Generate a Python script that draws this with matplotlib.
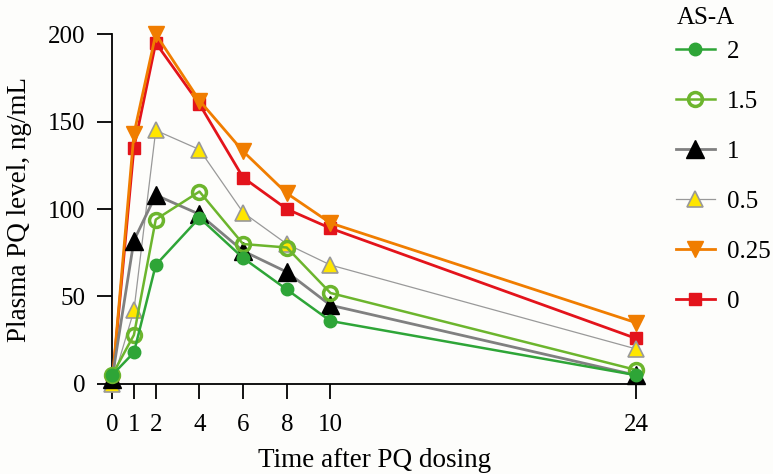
import matplotlib
matplotlib.use("Agg")
import matplotlib.pyplot as plt

plt.rcParams['font.family'] = ['Liberation Serif', 'DejaVu Serif']

hours = [0, 1, 2, 4, 6, 8, 10, 24]

asa_2 = [5, 18, 68, 95, 72, 54, 36, 5]
asa_15 = [5, 28, 94, 110, 80, 78, 52, 8]
asa_1 = [3, 82, 108, 97, 76, 64, 45, 5]
asa_05 = [0, 42, 145, 134, 98, 80, 68, 20]
asa_025 = [0, 143, 200, 162, 133, 109, 92, 35]
asa_0 = [0, 135, 195, 160, 118, 100, 89, 26]

labels = ['2', '1.5', '1', '0.5', '0.25', '0']

fig = plt.figure(figsize=(7.73, 4.74), dpi=100)
fig.patch.set_facecolor('#fdfdfb')
ax = fig.add_axes([0.145, 0.19, 0.678, 0.738])
ax.set_facecolor('#fdfdfb')

# drawn bottom-up so the green series sit on top
l0, = ax.plot(hours, asa_0, color='#e3131b', lw=2, marker='s', ms=9,
              mfc='#e3131b', mec='#e3131b', clip_on=False, zorder=3)
l025, = ax.plot(hours, asa_025, color='#f07d00', lw=2, marker='v', ms=12,
                mfc='#f07d00', mec='#f07d00', clip_on=False, zorder=4)
l05, = ax.plot(hours, asa_05, color='#999999', lw=0.9, marker='^', ms=12,
               mfc='#ffe600', mec='#999999', mew=1.2, clip_on=False, zorder=5)
l1, = ax.plot(hours, asa_1, color='#808080', lw=2, marker='^', ms=13,
              mfc='black', mec='black', clip_on=False, zorder=6)
l15, = ax.plot(hours, asa_15, color='#6cb52d', lw=1.8, marker='o', ms=10,
               mfc='none', mec='#6cb52d', mew=2.5, clip_on=False, zorder=7)
l2, = ax.plot(hours, asa_2, color='#2ea537', lw=1.8, marker='o', ms=9,
              mfc='#2ea537', mec='#2ea537', clip_on=False, zorder=8)

ax.set_xlim(0, 24)
ax.set_ylim(0, 200)
ax.set_xticks(hours)
ax.set_yticks([0, 50, 100, 150, 200])
ax.spines['top'].set_visible(False)
ax.spines['right'].set_visible(False)
ax.spines['left'].set_linewidth(1.3)
ax.spines['bottom'].set_linewidth(1.3)
ax.tick_params(length=11, width=1.3, labelsize=18)
ax.tick_params(axis='y', pad=8)
ax.tick_params(axis='x', pad=11)

ax.set_xlabel('Time after PQ dosing', fontsize=19.5, labelpad=8)
ax.set_ylabel('Plasma PQ level, ng/mL', fontsize=19.5, labelpad=12)

fig.text(0.876, 0.962, 'AS-A', fontsize=18, va='center', ha='left')
leg = fig.legend([l2, l15, l1, l05, l025, l0], labels,
                 loc='upper left', bbox_to_anchor=(0.868, 0.925), frameon=False,
                 fontsize=18, labelspacing=1.1,
                 handlelength=1.55, handletextpad=0.5, borderpad=0.2,
                 borderaxespad=0)

fig.savefig('out.png', dpi=100, facecolor=fig.get_facecolor())
